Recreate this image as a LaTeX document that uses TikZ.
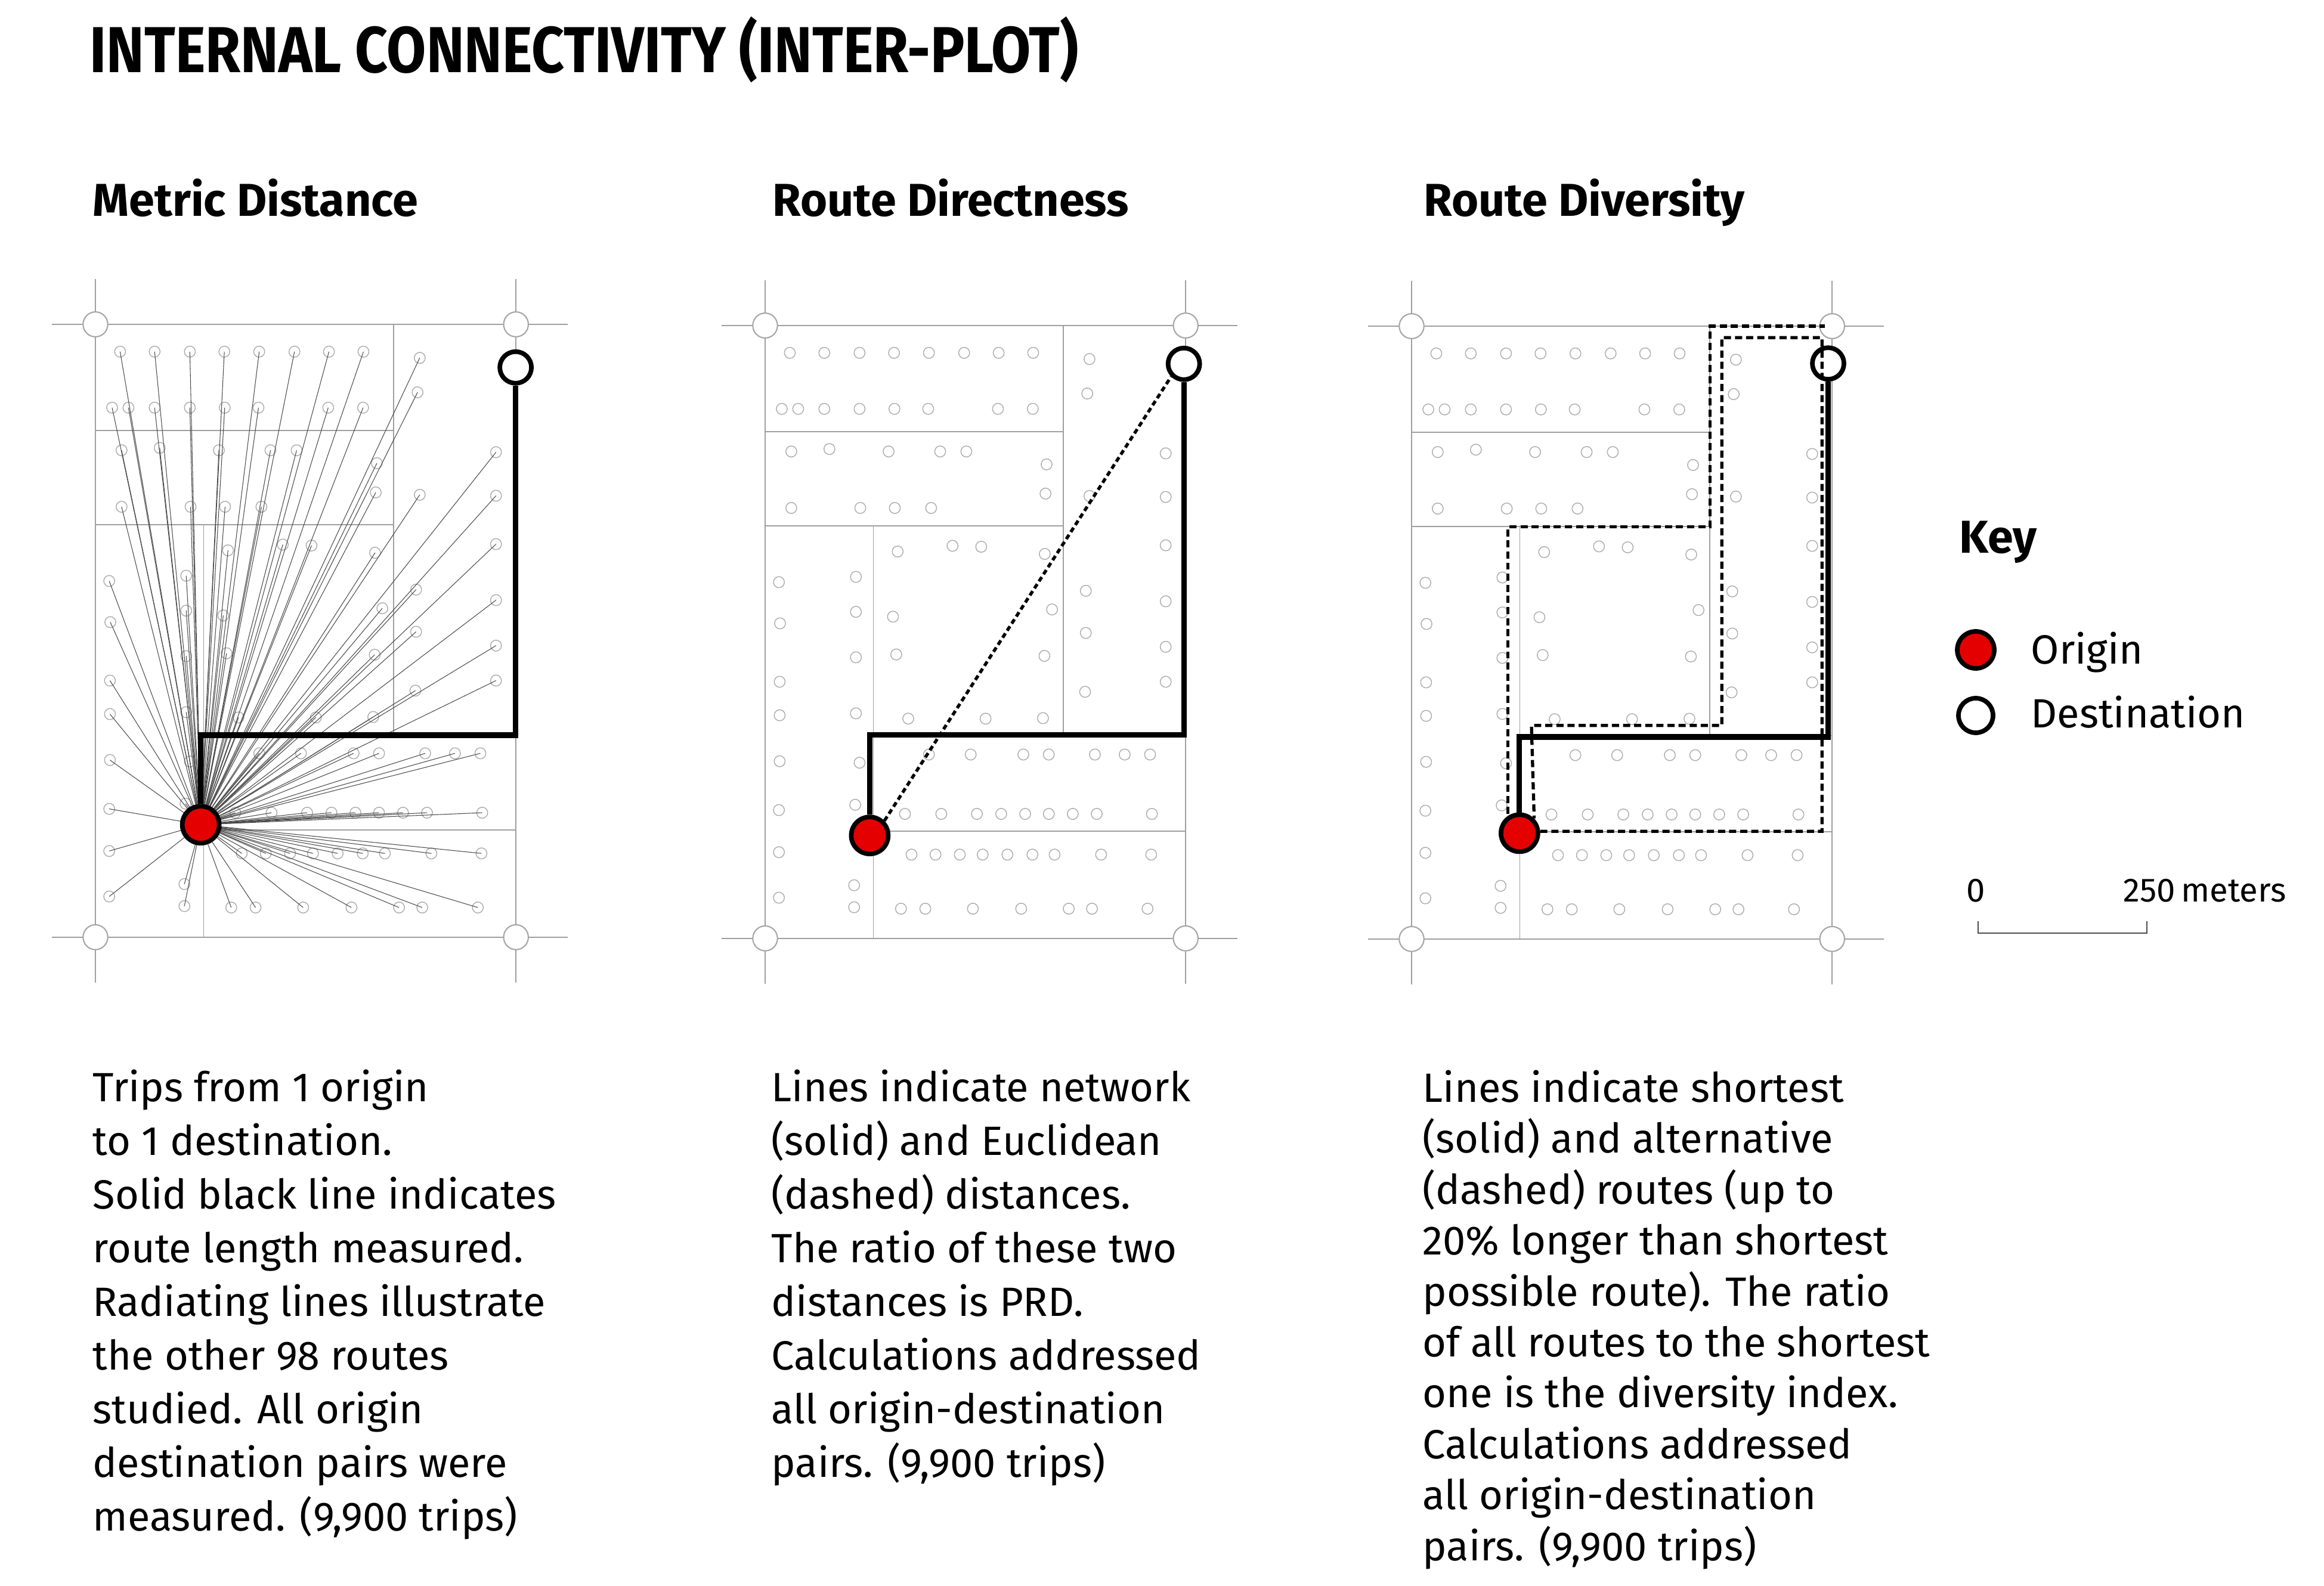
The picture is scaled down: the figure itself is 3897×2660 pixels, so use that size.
\documentclass[tikz,border=0pt]{standalone}
\usepackage{fontspec}
\setmainfont{Fira Sans}
\begin{document}
\begin{tikzpicture}[x=0.1mm,y=-0.1mm,
  grid/.style={draw=gray!75,line width=0.5pt},
  corner/.style={draw=gray!70,fill=white,line width=0.6pt},
  dot/.style={draw=gray!65,line width=0.4pt},
  ray/.style={draw=black!70,line width=0.3pt},
  route/.style={draw=black,line width=2.6pt},
  alt/.style={draw=black,line width=1.5pt,dash pattern=on 3.4pt off 1.9pt},
  eucl/.style={draw=black,line width=1.5pt,dash pattern=on 2.4pt off 1.6pt},
  orig/.style={circle,fill=red!90!black,draw=black,line width=2.2pt,minimum size=6.2mm,inner sep=0pt},
  dest/.style={circle,fill=white,draw=black,line width=2.2pt,minimum size=5.3mm,inner sep=0pt},
  body/.style={anchor=base west,align=left,inner sep=0pt,font=\fontsize{19.5}{25.6}\selectfont},
  head/.style={anchor=base west,inner sep=0pt,font=\fontsize{22}{26}\selectfont\bfseries}]
\path[use as bounding box,fill=white] (0,0) rectangle (3897,2660);
\def\dotlist{205/177,300/177,397/177,492/177,588/177,685/177,780/177,875/177,1030/190,
183/294,228/294,300/294,397/294,493/294,586/294,778/294,874/294,1024/262,
209/383,314/378,477/383,619/383,691/383,912/410,909/471,
209/501,399/501,494/501,594/501,
1240/387,1240/478,1240/579,1240/696,1240/791,1240/864,
1020/674,1020/762,1018/885,1030/476,
502/592,653/580,732/582,907/597,489/728,927/713,498/807,906/810,531/941,744/941,902/940,
175/656,178/742,177/864,177/934,177/1030,175/1132,175/1220,175/1315,
387/645,387/718,387/813,387/930,397/1033,385/1121,382/1289,382/1335,
588/1016,703/1016,848/1016,918/1016,1045/1016,1127/1016,1197/1016,
522/1140,622/1140,720/1140,787/1140,853/1140,918/1140,984/1140,1050/1140,1202/1140,
540/1225,606/1225,673/1225,736/1225,804/1225,873/1225,934/1225,1062/1225,1200/1225,
511/1338,578/1338,709/1338,842/1338,973/1338,1037/1338,1190/1338}
\newcommand{\panelbase}{%
  \draw[grid] (-120,0) -- (1300,0);
  \draw[grid] (-120,1280) -- (1300,1280);
  \draw[grid] (0,-95) -- (0,1375);
  \draw[grid] (1158,-95) -- (1158,1375);
  \draw[grid] (821,0) -- (821,855) (0,222) -- (821,222) (0,418) -- (821,418)
    (298,418) -- (298,1280) (298,1056) -- (1158,1056) (298,855) -- (1158,855);
  \foreach \x/\y in \dotlist {\draw[dot] ({\x-137},{\y-120}) ellipse (15 and 11.5);}
  \foreach \cx/\cy in {0/0,1158/0,0/1280,1158/1280} {\draw[corner] (\cx,\cy) ellipse (34 and 26);}
}
% title
\node[anchor=base west,inner sep=0pt,font=\fontsize{31}{36}\selectfont\bfseries,xscale=0.88,transform shape] (title) at (150,122) {INTERNAL CONNECTIVITY (INTER-PLOT)};
\node[head] (h1) at (155,363) {Metric Distance};
\node[head] (h2) at (1295,363) {Route Directness};
\node[head] (h3) at (2387,363) {Route Diversity};
% panel 1
\begin{scope}[shift={(160,544)},xscale=0.609,yscale=0.803]
  \panelbase
  \coordinate (c1) at (290,1045);
  \foreach \x/\y in \dotlist {\draw[ray] (c1) -- ({\x-137},{\y-120});}
  \coordinate (k1) at (0,858);
  \node[dest] (d1) at (1157,90) {};
  \node[orig] (o1) at (290,1045) {};
  \draw[route] (o1.north) -- (o1.north |- k1) -| (d1.south);
\end{scope}
% panel 2
\begin{scope}[shift={(1283,546)},xscale=0.609,yscale=0.803]
  \panelbase
  \coordinate (k2) at (0,855);
  \node[dest] (d2) at (1153,80) {};
  \node[orig] (o2) at (288,1065) {};
  \draw[route] (o2.north) -- (o2.north |- k2) -| (d2.south);
  \draw[eucl] (o2.north east) -- (d2.south west);
\end{scope}
% panel 3
\begin{scope}[shift={(2367,547)},xscale=0.609,yscale=0.803]
  \panelbase
  \coordinate (k3) at (0,858);
  \node[dest] (d3) at (1147,78) {};
  \node[orig] (o3) at (297,1059) {};
  \coordinate (a0) at (265,1019);
  \coordinate (a1) at (265,419);
  \coordinate (a2) at (822,0);
  \coordinate (a3) at (1137,0);
  \draw[alt] (a0) -- (a1) -- (a1 -| a2) -- (a2) -- (a3);
  \coordinate (b1) at (1130,1055);
  \coordinate (b2) at (854,24);
  \coordinate (b3) at (330,834);
  \draw[alt] (o3.east |- b1) -- (b1) -- (b1 |- b2) -- (b2) -- (b2 |- b3) -- (b3) -- (o3.north east);
  \draw[route] (o3.north) -- (o3.north |- k3) -| (d3.south);
\end{scope}
% texts (anchor = baseline of last line)
\node[body] (t1) at (155,2567) {Trips from 1 origin\\to 1 destination.\\Solid black line indicates\\route length measured.\\Radiating lines illustrate\\the other 98 routes\\studied. All origin\\destination pairs were\\measured. (9,900 trips)};
\node[body] (t2) at (1293,2477) {Lines indicate network\\(solid) and Euclidean\\(dashed) distances.\\The ratio of these two\\distances is PRD.\\Calculations addressed\\all origin-destination\\pairs. (9,900 trips)};
\node[body,font=\fontsize{19.5}{24.3}\selectfont] (t3) at (2385,2617) {Lines indicate shortest\\(solid) and alternative\\(dashed) routes (up to\\20\% longer than shortest\\possible route). The ratio\\of all routes to the shortest\\one is the diversity index.\\Calculations addressed\\all origin-destination\\pairs. (9,900 trips)};
% key
\node[head] (key) at (3285,928) {Key};
\node[orig] (ko) at (3313,1090) {};
\node[dest,minimum size=5.8mm] (kd) at (3313,1200) {};
\node[body] (lo) at (3405,1113) {Origin};
\node[body] (ld) at (3405,1220) {Destination};
\node[body,font=\fontsize{16}{20}\selectfont] (s0) at (3297,1512) {0};
\node[body,font=\fontsize{16}{20}\selectfont] (s1) at (3560,1512) {250\,meters};
\coordinate (sa) at (3317,1545);
\coordinate (sb) at (3600,1545);
\draw[black!70,line width=0.6pt] (sa) -- ++(0,20) -| (sb);
\end{tikzpicture}
\end{document}
